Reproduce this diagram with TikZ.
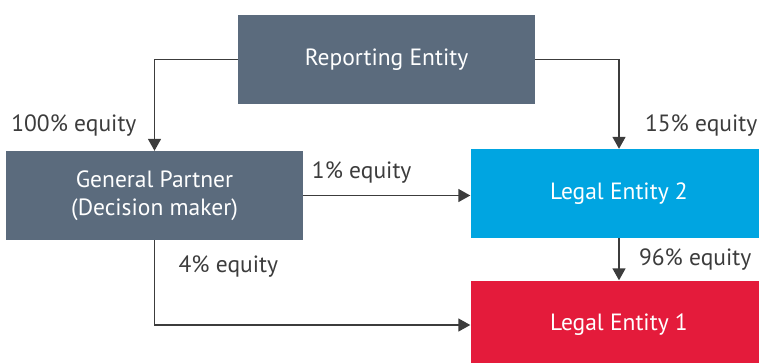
\documentclass[tikz,border=0pt]{standalone}
\usepackage{fontspec}
\setmainfont{PT Sans}
\usetikzlibrary{arrows.meta,calc}
\definecolor{slate}{HTML}{5B6B7D}
\definecolor{entblue}{HTML}{00A5E1}
\definecolor{entred}{HTML}{E41B3B}
\definecolor{ink}{HTML}{3C3C3C}

\begin{document}
\begin{tikzpicture}[x=1pt,y=-1pt,
  entity/.style={fill=#1,text=white,minimum width=297pt,minimum height=89pt,inner sep=0pt,align=center,font=\fontsize{23.5}{28}\selectfont},
  own/.style={draw=ink,line width=1.5pt,-{Triangle[length=12pt,width=13pt]}},
  pct/.style={text=ink,font=\fontsize{23.5}{28}\selectfont}]
\clip (0,0) rectangle (759,362);
\node[entity=slate] (rep) at (386.5,59.5) {Reporting Entity};
\node[entity=slate] (gp) at (154.5,195.5) {General Partner\\(Decision maker)};
\node[entity=entblue] (le2) at (619,193.5) {Legal Entity 2};
\node[entity=entred] (le1) at (619,325) {Legal Entity 1};
\draw[own] (rep.west) -| node[pct,pos=0.86,left=14pt] {100\% equity} (gp.north);
\draw[own] (rep.east) -| node[pct,pos=0.87,right=22pt] {15\% equity} (le2.north);
\draw[own] (gp.east) -- node[pct,pos=0.35,above=8pt] {1\% equity} (gp.east -| le2.west);
\draw[own] (gp.south) |- node[pct,pos=0.155,right=20pt] {4\% equity} (le1.west);
\draw[own] (le2.south) -- node[pct,right=16pt] {96\% equity} (le1.north);
\end{tikzpicture}
\end{document}
